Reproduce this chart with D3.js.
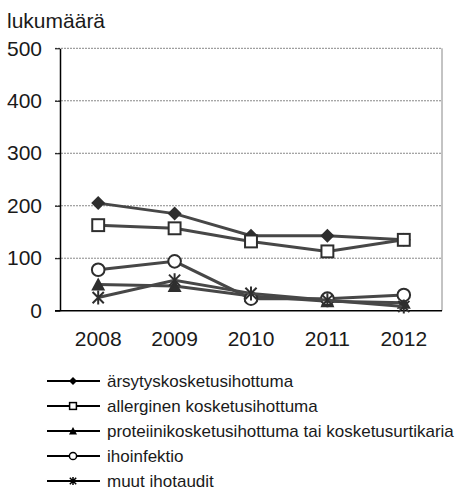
<!DOCTYPE html>
<html>
<head>
<meta charset="utf-8">
<script src="https://cdn.jsdelivr.net/npm/d3@7"></script>
<style>
	body { margin: 0; background: #fff; }
	svg text { font-family: 'Liberation Sans', Arial, sans-serif; fill: #1a1a1a; }
</style>
</head>
<body>
<div id="wrapper"></div>
<script>
const years = ['2008', '2009', '2010', '2011', '2012'];
const yTicks = [0, 100, 200, 300, 400, 500];
const seriesNames = [
	'ärsytyskosketusihottuma',
	'allerginen kosketusihottuma',
	'proteiinikosketusihottuma tai kosketusurtikaria',
	'ihoinfektio',
	'muut ihotaudit'
];
const irritant = [205, 185, 143, 143, 135];
const allergic = [163, 157, 132, 113, 135];
const protein = [50, 47, 28, 18, 15];
const infection = [78, 94, 23, 23, 30];
const other = [25, 58, 33, 20, 8];
const markers = ['diamond', 'square', 'triangle', 'circle', 'star'];

const series = [irritant, allergic, protein, infection, other].map((values, i) => ({
	name: seriesNames[i],
	marker: markers[i],
	values: values.map((v, j) => ({ year: years[j], value: v }))
}));

const dimensions = {
	width: 457,
	height: 490,
	margin: { top: 48.3, right: 15, bottom: 179.3, left: 60 }
};

const svg = d3.select('#wrapper').append('svg').attr('width', dimensions.width).attr('height', dimensions.height);

const x = d3.scaleBand().domain(years).range([dimensions.margin.left, dimensions.width - dimensions.margin.right]).padding(0);
const y = d3.scaleLinear().domain([0, 500]).range([dimensions.height - dimensions.margin.bottom, dimensions.margin.top]);
const cx = (d) => x(d) + x.bandwidth() / 2;

// gridlines
svg.append('g')
	.selectAll('line')
	.data(yTicks.filter((t) => t > 0))
	.join('line')
	.attr('x1', dimensions.margin.left - 5)
	.attr('x2', x.range()[1])
	.attr('y1', (d) => y(d))
	.attr('y2', (d) => y(d))
	.attr('stroke', '#888')
	.attr('stroke-width', 1)
	.attr('stroke-dasharray', '2,1');

// right border
svg.append('line')
	.attr('x1', x.range()[1]).attr('x2', x.range()[1])
	.attr('y1', y(500)).attr('y2', y(0))
	.attr('stroke', '#888').attr('stroke-width', 1);

// y axis
const yAxis = svg.append('g')
	.attr('transform', `translate(${dimensions.margin.left},0)`)
	.call(d3.axisLeft(y).tickValues(yTicks).tickSize(5).tickSizeOuter(0));
yAxis.select('.domain').attr('stroke', '#000').attr('stroke-width', 1.5);
yAxis.selectAll('.tick line').attr('stroke', '#000');
yAxis.selectAll('.tick text')
	.attr('x', -18)
	.style('font-size', '21px')
	.style('font-family', "'Liberation Sans', Arial, sans-serif")
	.attr('fill', '#1a1a1a');

// x axis
const xAxis = svg.append('g')
	.attr('transform', `translate(0,${y(0)})`)
	.call(d3.axisBottom(x).tickSize(0).tickSizeOuter(0));
xAxis.select('.domain').attr('stroke', '#000').attr('stroke-width', 1.5)
	.attr('d', `M${dimensions.margin.left - 5},0H${x.range()[1]}`);
xAxis.selectAll('.tick text')
	.attr('y', 20)
	.style('font-size', '21px')
	.style('font-family', "'Liberation Sans', Arial, sans-serif")
	.attr('fill', '#1a1a1a');

svg.append('text')
	.attr('x', 7)
	.attr('y', 28)
	.style('font-size', '21px')
	.text('lukumäärä');

// marker drawing
function drawMarker(g, type, s, color) {
	if (type === 'diamond') {
		g.append('path').attr('d', `M0,${-s}L${s},0L0,${s}L${-s},0Z`).attr('fill', color);
	} else if (type === 'square') {
		g.append('rect').attr('x', -s * 0.85).attr('y', -s * 0.85).attr('width', s * 1.7).attr('height', s * 1.7)
			.attr('fill', '#fff').attr('stroke', color).attr('stroke-width', s > 5 ? 2 : 1.5);
	} else if (type === 'triangle') {
		g.append('path').attr('d', `M0,${-s}L${s},${s * 0.85}L${-s},${s * 0.85}Z`).attr('fill', color);
	} else if (type === 'circle') {
		g.append('circle').attr('r', s * 0.9).attr('fill', '#fff').attr('stroke', color).attr('stroke-width', s > 5 ? 2 : 1.5);
	} else if (type === 'star') {
		const k = s * 0.8;
		g.append('path')
			.attr('d', `M${-k},${-k}L${k},${k}M${k},${-k}L${-k},${k}M0,${-s}L0,${s}`)
			.attr('stroke', color).attr('stroke-width', s > 5 ? 2 : 1.5);
	}
}

const line = d3.line().x((d) => cx(d.year)).y((d) => y(d.value));

// Draw the lines and markers.
series.forEach((s) => {
	const g = svg.append('g');
	g.append('path')
		.datum(s.values)
		.attr('d', line)
		.attr('fill', 'none')
		.attr('stroke', '#474747')
		.attr('stroke-width', 3);
	s.values.forEach((d) => {
		const m = g.append('g').attr('transform', `translate(${cx(d.year)},${y(d.value)})`);
		drawMarker(m, s.marker, 7, '#2e2e2e');
	});
});

// legend
const legend = svg.append('g').attr('transform', 'translate(0,381)');
series.forEach((s, i) => {
	const row = legend.append('g').attr('transform', `translate(0,${i * 25})`);
	row.append('line').attr('x1', 47).attr('x2', 100).attr('y1', 0).attr('y2', 0)
		.attr('stroke', '#000').attr('stroke-width', 2);
	const m = row.append('g').attr('transform', 'translate(73,0)');
	drawMarker(m, s.marker, 4, '#000');
	row.append('text')
		.attr('x', 107)
		.attr('y', 0)
		.attr('dy', '0.35em')
		.style('font-size', '17px')
		.text(s.name);
});
</script>
</body>
</html>
